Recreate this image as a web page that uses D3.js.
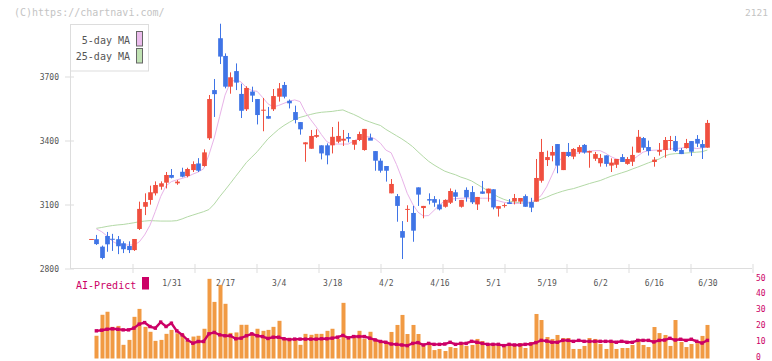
<!DOCTYPE html>
<html><head><meta charset="utf-8">
<script src="https://cdn.jsdelivr.net/npm/d3@7"></script>
<style>body{margin:0;background:#fff}svg{display:block}text{font-family:"DejaVu Sans Mono",monospace}</style>
</head><body>
<svg id="chart" width="772" height="361"></svg>
<script>
const dates = ["1/9","1/10","1/14","1/15","1/16","1/17","1/20","1/21","1/22","1/23","1/24","1/27","1/28","1/29","1/30","1/31",
"2/3","2/4","2/5","2/6","2/7","2/10","2/12","2/13","2/14","2/17","2/18","2/19","2/20","2/21","2/25","2/26","2/27","2/28",
"3/3","3/4","3/5","3/6","3/7","3/10","3/11","3/12","3/13","3/14","3/17","3/18","3/19","3/21","3/24","3/25","3/26","3/27","3/28","3/31",
"4/1","4/2","4/3","4/4","4/7","4/8","4/9","4/10","4/11","4/14","4/15","4/16","4/17","4/18","4/21","4/22","4/23","4/24","4/25","4/28","4/30",
"5/1","5/2","5/7","5/8","5/9","5/12","5/13","5/14","5/15","5/16","5/19","5/20","5/21","5/22","5/23","5/26","5/27","5/28","5/29","5/30",
"6/2","6/3","6/4","6/5","6/6","6/9","6/10","6/11","6/12","6/13","6/16","6/17","6/18","6/19","6/20","6/23","6/24","6/25","6/26","6/27","6/30"];
const openP = [2934,2935,2900,2950,2937,2935,2916,2903,2884,2983,
3087,3119,3150,3181,3200,3236,3197,3251,3231,3259,
3290,3278,3408,3634,3877,3794,3650,3723,3616,3544,
3627,3592,3538,3512,3544,3603,3658,3584,3531,3484,
3380,3359,3415,3375,3375,3375,3392,3397,3414,3378,
3400,3353,3411,3348,3303,3278,3150,3137,2973,3073,
3058,3178,3081,3123,3123,3098,3087,3106,3155,3087,
3166,3156,3098,3159,3150,3169,3078,3093,3108,3112,
3111,3137,3109,3111,3209,3306,3327,3381,3259,3344,
3322,3344,3377,3341,3312,3291,3328,3280,3284,3320,
3288,3298,3341,3409,3367,3297,3345,3353,3397,3395,
3353,3362,3395,3405,3381,3364];
const highP = [2936,2955,2905,2969,2960,2950,2925,2925,2936,3111,
3150,3186,3206,3206,3250,3264,3212,3270,3270,3300,
3315,3356,3611,3686,3945,3806,3717,3759,3664,3652,
3650,3592,3597,3555,3639,3667,3672,3590,3561,3484,
3389,3447,3450,3375,3384,3461,3486,3447,3433,3400,
3439,3452,3430,3348,3314,3278,3217,3147,3020,3094,
3091,3178,3091,3150,3137,3122,3122,3173,3167,3119,
3178,3184,3133,3208,3172,3169,3090,3103,3123,3147,
3128,3145,3129,3311,3405,3350,3372,3381,3344,3386,
3362,3376,3381,3350,3344,3334,3328,3314,3311,3334,
3320,3369,3447,3414,3397,3320,3386,3414,3419,3419,
3362,3405,3395,3423,3400,3494];
const lowP = [2934,2908,2841,2876,2880,2865,2870,2870,2880,2978,
3048,3097,3140,3167,3173,3220,3190,3225,3225,3250,
3250,3275,3400,3508,3756,3642,3617,3634,3503,3536,
3578,3473,3441,3500,3536,3580,3595,3548,3478,3425,
3298,3359,3410,3309,3286,3337,3385,3372,3389,3354,
3395,3350,3405,3256,3247,3205,3150,3017,2842,3016,
2923,3091,3033,3098,3087,3070,3083,3100,3114,3083,
3111,3100,3072,3148,3111,3075,3041,3083,3100,3098,
3100,3087,3062,3111,3200,3278,3300,3244,3259,3320,
3310,3335,3336,3270,3302,3275,3275,3250,3269,3297,
3284,3278,3341,3353,3327,3275,3327,3317,3353,3344,
3334,3360,3325,3367,3311,3364];
const closeP = [2936,2912,2847,2911,2933,2902,2888,2884,2936,3077,
3109,3155,3189,3197,3236,3223,3205,3228,3264,3287,
3256,3342,3592,3615,3791,3650,3694,3669,3537,3644,
3608,3517,3542,3500,3606,3642,3603,3572,3494,3450,
3389,3419,3423,3337,3328,3415,3419,3406,3406,3400,
3428,3452,3397,3303,3256,3256,3194,3091,2942,3077,
2975,3144,3091,3116,3106,3075,3119,3161,3134,3119,
3131,3108,3133,3148,3172,3084,3090,3095,3100,3128,
3128,3087,3083,3222,3344,3320,3344,3280,3344,3325,
3358,3367,3341,3348,3334,3316,3288,3294,3311,3297,
3311,3330,3415,3364,3348,3308,3353,3400,3400,3348,
3334,3386,3345,3383,3364,3480];
const ma5 = [null,2983,2970,2950,2925,2912,2908,2908,2908,2922,
2955,3000,3065,3135,3185,3205,3213,3220,3228,3240,
3250,3265,3330,3410,3510,3610,3670,3683,3672,3645,
3632,3628,3600,3570,3555,3562,3572,3582,3588,3580,
3530,3495,3462,3425,3392,3381,3381,3381,3381,3395,
3410,3415,3415,3405,3385,3353,3340,3285,3220,3150,
3100,3062,3044,3046,3070,3095,3115,3122,3125,3127,
3128,3127,3127,3127,3127,3122,3115,3108,3104,3103,
3103,3105,3110,3119,3140,3180,3235,3290,3322,3330,
3336,3340,3345,3348,3350,3350,3338,3322,3311,3306,
3305,3306,3325,3343,3350,3352,3353,3355,3358,3360,
3362,3366,3364,3360,3362,3372];
const ma25 = [null,2986,2990,2995,2999,3002,3004,3008,3012,3017,
3020,3022,3021,3020,3020,3020,3022,3030,3040,3048,
3056,3064,3074,3100,3134,3165,3197,3230,3262,3295,
3320,3345,3375,3405,3428,3450,3468,3483,3497,3506,
3513,3520,3526,3530,3532,3534,3538,3541,3530,3520,
3508,3494,3485,3476,3468,3450,3435,3420,3405,3388,
3369,3345,3322,3300,3283,3268,3254,3245,3237,3226,
3218,3208,3193,3178,3163,3147,3133,3122,3114,3109,
3106,3104,3106,3114,3122,3132,3143,3152,3160,3167,
3172,3180,3188,3196,3203,3210,3220,3230,3238,3246,
3254,3264,3273,3283,3293,3302,3311,3325,3333,3336,
3337,3339,3341,3343,3345,3353];
const volume = [null,14.3,27.5,29.4,19.9,20.5,8.6,11.7,26.2,31.2,
19.9,16.8,11.1,11.7,15.5,18.0,15.9,15.5,11.3,13.8,
14.3,18.7,50.1,35.6,46.3,34.4,16.1,16.4,21.2,21.2,
14.9,18.7,17.4,18.0,19.9,23.7,12.4,13.0,11.7,8.6,
15.5,14.9,15.5,15.5,17.4,18.7,12.4,35.0,12.4,14.3,
17.4,12.4,16.8,12.4,10.5,10.5,16.7,21.1,27.4,15.4,
21.1,15.4,8.5,9.1,5.3,6.0,4.7,7.2,6.6,9.1,
7.9,8.5,12.3,11.0,8.5,9.1,9.1,8.5,9.1,8.5,
9.7,6.6,10.4,28.0,24.2,13.5,12.3,14.8,12.9,12.9,
6.0,6.0,7.9,12.9,12.3,9.1,6.0,10.4,6.0,6.6,
6.6,8.5,12.3,8.5,7.2,19.8,16.0,14.8,7.9,24.2,
10.4,7.2,9.1,9.7,14.2,21.1];
const aiPredict = [null,17.4,17.8,18.4,18.7,18.4,18.0,18.0,19.1,21.6,
22.6,20.1,19.1,22.9,20.1,22.2,17.4,14.9,11.7,9.6,
10.7,10.7,15.5,16.4,14.9,14.3,14.3,12.4,12.8,14.3,
15.5,14.3,13.8,12.6,13.4,13.4,12.4,11.9,12.2,12.2,
12.2,12.2,12.2,12.4,12.4,12.8,13.4,14.5,13.0,13.8,
13.8,13.8,12.8,11.7,10.7,10.2,9.1,8.9,8.5,8.1,
9.5,10.0,8.5,9.5,8.9,8.9,9.1,10.2,8.9,9.5,
9.5,10.8,10.2,9.5,8.9,8.9,8.9,8.1,8.9,8.5,
8.5,8.9,9.1,10.0,11.4,11.0,10.2,10.2,11.4,11.4,
10.8,11.4,10.8,10.8,10.8,10.8,10.8,10.8,10.2,10.8,
10.2,10.2,11.4,11.4,11.4,10.4,11.4,11.6,12.7,11.6,
12.1,11.4,12.1,10.8,9.7,11.4];
const xLabels = ["1/31","2/17","3/4","3/18","4/2","4/16","5/1","5/19","6/2","6/16","6/30"];
const yTicks = [2800,3100,3400,3700];
const volTicks = [0,10,20,30,40,50];

const svg = d3.select("#chart");
const UP = "#f04f3f", DOWN = "#3f74e6", GRID = "#dddddd", TXT = "#555555", AI = "#cc0066";

const x = d3.scalePoint().domain(dates).range([91, 707.4]);
const y = d3.scaleLinear().domain([2800, 3700]).range([268, 76]);
const yv = d3.scaleLinear().domain([0, 50]).range([358.5, 279]);
const frame = d3.scaleLinear().domain([0, 11]).range([70, 752]);

svg.append("text").attr("x", 14).attr("y", 16).attr("font-size", 10).attr("fill", "#c4c4c4").text("(C)https://chartnavi.com/");
svg.append("text").attr("x", 768).attr("y", 16).attr("text-anchor", "end").attr("font-size", 9.5).attr("fill", "#c4c4c4").text("2121");

svg.append("line").attr("x1", 70.5).attr("x2", 70.5).attr("y1", 24).attr("y2", 268.5).attr("stroke", GRID);
svg.append("line").attr("x1", 70).attr("x2", 752).attr("y1", 268.5).attr("y2", 268.5).attr("stroke", GRID);

const fAxis = svg.append("g").attr("transform", "translate(0.5,264)")
  .call(d3.axisBottom(frame).tickValues(d3.range(1, 12)).tickSize(9).tickFormat(""));
fAxis.select(".domain").remove();
fAxis.selectAll("line").attr("stroke", GRID);

const yAxis = svg.append("g").attr("transform", "translate(74,0.5)")
  .call(d3.axisLeft(y).tickValues(yTicks).tickSize(9).tickPadding(6).tickFormat(d3.format("d")));
yAxis.select(".domain").remove();
yAxis.selectAll("line").attr("stroke", GRID);
yAxis.selectAll("text").attr("font-family", "DejaVu Sans Mono").attr("font-size", 8).attr("fill", TXT);

const xAxis = svg.append("g").attr("transform", "translate(0,277)")
  .call(d3.axisBottom(x).tickValues(xLabels).tickSize(0).tickPadding(3));
xAxis.select(".domain").remove();
xAxis.selectAll("text").attr("font-family", "DejaVu Sans Mono").attr("font-size", 8).attr("fill", TXT);

const lineOf = arr => d3.line().defined((d, i) => arr[i] != null).x((d, i) => x(dates[i])).y((d, i) => y(arr[i]));
svg.append("path").datum(ma25).attr("d", lineOf(ma25)).attr("fill", "none").attr("stroke", "#b3d9a6").attr("stroke-width", 1);
svg.append("path").datum(ma5).attr("d", lineOf(ma5)).attr("fill", "none").attr("stroke", "#e8b3e8").attr("stroke-width", 1);

const cd = dates.map((d, i) => ({d, o: openP[i], h: highP[i], l: lowP[i], c: closeP[i]}));
const g = svg.append("g");
g.selectAll("line.wick").data(cd).join("line").attr("class", "wick")
  .attr("x1", d => Math.round(x(d.d)) + 0.5).attr("x2", d => Math.round(x(d.d)) + 0.5)
  .attr("y1", d => y(d.h)).attr("y2", d => y(d.l))
  .attr("stroke", d => d.c >= d.o ? UP : DOWN).attr("stroke-width", 1);
g.selectAll("rect.body").data(cd).join("rect").attr("class", "body")
  .attr("x", d => Math.round(x(d.d)) + 0.5 - 2.35).attr("width", 4.7)
  .attr("y", d => y(Math.max(d.o, d.c)))
  .attr("height", d => Math.max(1, Math.abs(y(d.o) - y(d.c))))
  .attr("fill", d => d.c >= d.o ? UP : DOWN);

svg.append("rect").attr("x", 70.5).attr("y", 24.5).attr("width", 78).attr("height", 46.5).attr("fill", "#fff").attr("stroke", GRID);
[["5-day MA", "#ebbcec", 31.5, 43.5], ["25-day MA", "#c0e2b3", 48.5, 60]].forEach(([t, c, ry, ty]) => {
  svg.append("text").attr("x", 130).attr("y", ty).attr("text-anchor", "end").attr("font-size", 10).attr("fill", TXT).text(t);
  svg.append("rect").attr("x", 136.5).attr("y", ry).attr("width", 6).attr("height", 14.5).attr("fill", c).attr("stroke", "#666").attr("stroke-width", 1);
});

svg.append("g").selectAll("rect").data(dates.map((d, i) => ({d, v: volume[i]})).filter(e => e.v != null)).join("rect")
  .attr("x", e => Math.round(x(e.d)) + 0.5 - 2).attr("width", 4)
  .attr("y", e => yv(e.v)).attr("height", e => yv(0) - yv(e.v)).attr("fill", "#f19a43");

const aiData = dates.map((d, i) => ({d, v: aiPredict[i]})).filter(e => e.v != null);
svg.append("path").datum(aiData)
  .attr("d", d3.line().x(e => x(e.d)).y(e => yv(e.v)))
  .attr("fill", "none").attr("stroke", AI).attr("stroke-width", 2.4);
svg.append("g").selectAll("rect").data(aiData).join("rect")
  .attr("x", e => x(e.d) - 1.7).attr("y", e => yv(e.v) - 1.7).attr("width", 3.4).attr("height", 3.4).attr("fill", AI);

const vAxis = svg.append("g").attr("transform", "translate(752,-1.5)")
  .call(d3.axisRight(yv).tickValues(volTicks).tickSize(0).tickPadding(4));
vAxis.select(".domain").remove();
vAxis.selectAll("text").attr("font-family", "DejaVu Sans Mono").attr("font-size", 8).attr("fill", AI);

svg.append("text").attr("x", 76).attr("y", 289).attr("font-size", 10).attr("fill", AI).text("AI-Predict");
svg.append("rect").attr("x", 142).attr("y", 277).attr("width", 7).attr("height", 12.5).attr("fill", AI);
</script>
</body></html>
